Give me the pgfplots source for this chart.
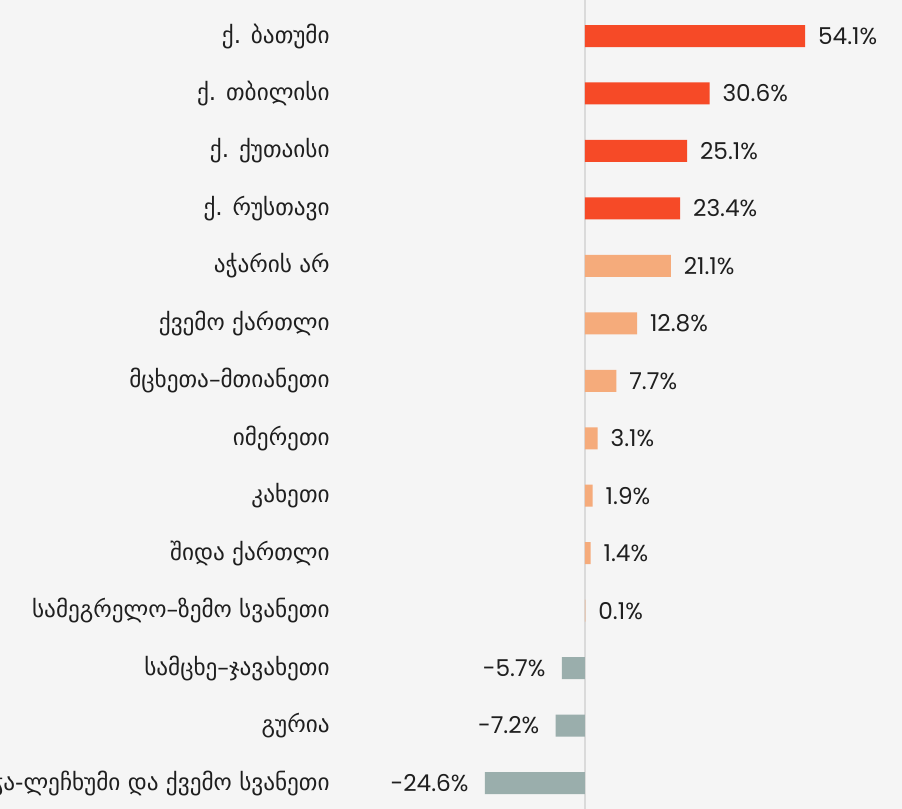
\documentclass[border=0pt]{standalone}
\usepackage{fontspec}
\usepackage{pgfplots}
\pgfplotsset{compat=1.18}
\setmainfont{Poppins}
\newfontfamily\geo{DejaVu Sans}
\definecolor{bg}{HTML}{F5F5F5}
\definecolor{cred}{HTML}{F64A27}
\definecolor{corange}{HTML}{F5AB7B}
\definecolor{cgray}{HTML}{9AAEAC}
\definecolor{txt}{HTML}{1F1F1F}
\definecolor{zl}{HTML}{DADADA}
\begin{document}
\begin{tikzpicture}
\fill[bg] (0,0) rectangle (451pt,404.5pt);
\begin{axis}[
  at={(170pt,0pt)}, anchor=south west,
  scale only axis, width=281pt, height=404.5pt,
  xmin=-60.2, xmax=77.9, ymin=-0.627, ymax=13.452,
  y dir=reverse,
  hide x axis,
  y axis line style={draw=none},
  ytick={0,...,13},
  major tick length=0pt,
  yticklabels={ქ. ბათუმი, ქ. თბილისი, ქ. ქუთაისი, ქ. რუსთავი, აჭარის არ, ქვემო ქართლი, მცხეთა–მთიანეთი, იმერეთი, კახეთი, შიდა ქართლი, სამეგრელო–ზემო სვანეთი, სამცხე–ჯავახეთი, გურია, რაჭა-ლეჩხუმი და ქვემო სვანეთი},
  yticklabel style={font=\geo\fontsize{11.6}{13}\selectfont, text=txt, anchor=east, inner sep=0pt, xshift=-5pt},
  clip=false,
  point meta=explicit symbolic,
  nodes near coords,
]
\draw[zl, line width=0.6pt] (axis cs:0,-0.627) -- (axis cs:0,13.452);
\addplot[xbar, bar width=11pt, bar shift=0pt, fill=cred, draw=none,
  nodes near coords style={anchor=west, inner sep=0pt, xshift=6.3pt, font=\fontsize{11.6}{13}\selectfont, text=txt}]
  coordinates {(54.1,0)[54.1\%] (30.6,1)[30.6\%] (25.1,2)[25.1\%] (23.4,3)[23.4\%]};
\addplot[xbar, bar width=11pt, bar shift=0pt, fill=corange, draw=none,
  nodes near coords style={anchor=west, inner sep=0pt, xshift=6.3pt, font=\fontsize{11.6}{13}\selectfont, text=txt}]
  coordinates {(21.1,4)[21.1\%] (12.8,5)[12.8\%] (7.7,6)[7.7\%] (3.1,7)[3.1\%] (1.9,8)[1.9\%] (1.4,9)[1.4\%] (0.1,10)[0.1\%]};
\addplot[xbar, bar width=11pt, bar shift=0pt, fill=cgray, draw=none,
  nodes near coords style={anchor=east, inner sep=0pt, xshift=-8pt, font=\fontsize{11.6}{13}\selectfont, text=txt}]
  coordinates {(-5.7,11)[-5.7\%] (-7.2,12)[-7.2\%] (-24.6,13)[-24.6\%]};
\end{axis}
\pgfresetboundingbox
\useasboundingbox (0,0) rectangle (451pt,404.5pt);
\end{tikzpicture}
\end{document}
